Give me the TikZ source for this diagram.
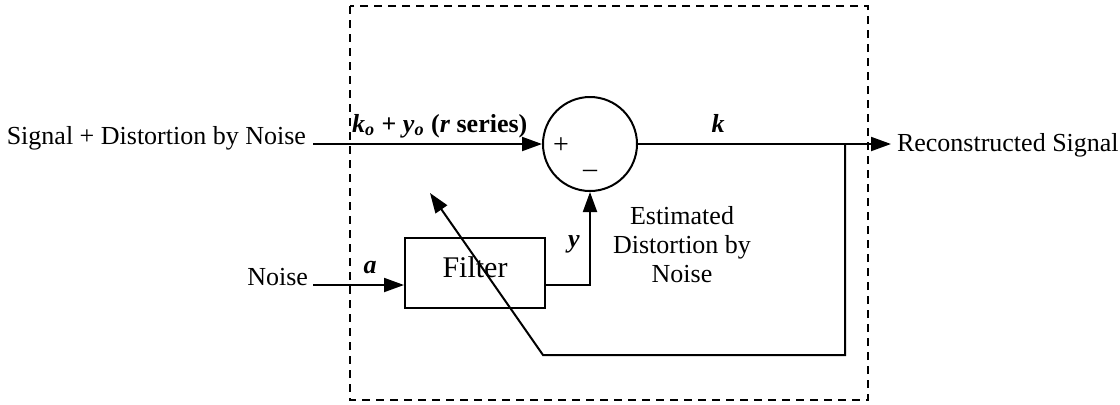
\documentclass[tikz,border=0pt]{standalone}
\usepackage{fontspec}
\setmainfont{Liberation Serif}
\usetikzlibrary{arrows.meta,calc}
\begin{document}
\begin{tikzpicture}[x=0.5pt,y=-0.5pt,
  line width=1pt,
  lbl/.style={font=\fontsize{13}{14.5}\selectfont, inner sep=0pt},
  blbl/.style={font=\fontsize{13}{14.5}\selectfont\bfseries\itshape, inner sep=0pt},
  arr/.style={-{Triangle[length=10pt,width=7pt]}},
  sumnode/.style={draw, circle, minimum size=47pt, inner sep=0pt},
  blockbox/.style={draw, rectangle, minimum width=70pt, minimum height=35pt, inner sep=0pt},
  boundary/.style={dash pattern=on 4pt off 3pt, line width=0.9pt}]
\useasboundingbox (0,0) rectangle (1120,404);
% boundary
\draw[boundary] (350,6) rectangle (868,400);
% nodes
\node[sumnode] (sum) at (590,144) {};
\node[blockbox] (filter) at (475,273) {};
\node[font=\fontsize{15}{16}\selectfont, anchor=base, inner sep=0pt] (ftxt) at (475,277) {Filter};
\node[lbl, anchor=base east] (sigtxt) at (307,144) {Signal + Distortion by Noise};
\node[lbl, anchor=base east] (noisetxt) at (309,285) {Noise};
\node[lbl, anchor=base west] (rectxt) at (896,151) {Reconstructed Signal};
\node[lbl, font=\fontsize{13}{14.5}\selectfont\bfseries, anchor=base west] (kolbl) at (351,132) {\textit{k}\textsubscript{\textit{o}} + \textit{y}\textsubscript{\textit{o}} (\textit{r} series)};
\node[blbl, anchor=base] (klbl) at (718,132) {k};
\node[blbl, anchor=base] (albl) at (370,273) {a};
\node[blbl, anchor=base] (ylbl) at (574,247) {y};
\node[lbl, font=\fontsize{14}{14}\selectfont, anchor=center] (plus) at (561,146) {+};
\node[lbl, font=\fontsize{14}{14}\selectfont, anchor=center] (minus) at (590,174) {\textendash};
\node[lbl, align=center, anchor=north] (esttxt) at (682,205) {Estimated\\Distortion by\\Noise};
% coordinates
\coordinate (sin) at (313,144);
\coordinate (nin) at (313,285);
\coordinate (sout) at (891,144);
\coordinate (fb1) at (845,144);
\coordinate (fb2) at (845,355);
\coordinate (fb3) at (543,355);
\coordinate (fbtip) at (430,193);
% connectors
\draw[arr] (sin) -- (sum.west);
\draw[arr] (sum.east) -- (sout);
\draw[arr] (nin) -- (nin -| filter.west);
\draw[arr] (filter.east |- nin) -| (sum.south);
\draw[arr] (fb1) -- (fb2) -- (fb3) -- (fbtip);
\end{tikzpicture}
\end{document}
